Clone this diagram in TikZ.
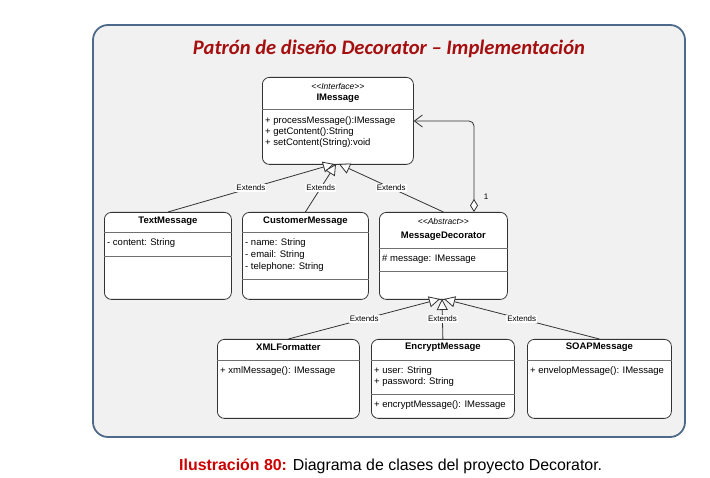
\documentclass[tikz,border=0pt]{standalone}
\usepackage{fontspec}
\setmainfont{Liberation Sans}
\newfontfamily\titlefont{Carlito}
\usetikzlibrary{arrows.meta}
\definecolor{framebg}{HTML}{F1F1F1}
\definecolor{frameline}{HTML}{4D6A8A}
\definecolor{titlered}{HTML}{A50F0F}
\definecolor{capred}{HTML}{CC0000}
\definecolor{ln}{HTML}{333333}
\begin{document}
\begin{tikzpicture}[x=1pt,y=-1pt,
  cls/.style={draw=ln, fill=white, rounded corners=7pt, line width=0.8pt, inner sep=0pt, anchor=north west},
  div/.style={draw=ln!70, line width=0.7pt},
  nm/.style={font=\fontsize{9.5}{11}\selectfont\bfseries, inner sep=0pt},
  st/.style={font=\fontsize{8.5}{10}\selectfont\itshape, inner sep=0pt},
  mb/.style={font=\fontsize{9.5}{11}\selectfont, inner sep=0pt, anchor=west},
  lbl/.style={font=\fontsize{8}{9}\selectfont, fill=white, inner sep=1pt},
  ext/.style={draw=ln, line width=0.8pt, -{Triangle[length=11pt,width=11pt,fill=white,line width=0.8pt]}},
  agg/.style={draw=ln, line width=0.8pt, rounded corners=5pt,
    {Diamond[length=13pt,width=8pt,fill=white,line width=0.8pt]}-{Straight Barb[length=8pt,width=12pt,line width=0.8pt]}}
]
\useasboundingbox (0,0) rectangle (710,478);
% frame
\draw[fill=framebg, draw=frameline, line width=1.8pt, rounded corners=15pt] (93,25) rectangle (685,437);
\node[font=\titlefont\fontsize{20.6}{24}\selectfont\bfseries\itshape, text=titlered, anchor=base, inner sep=0pt] (title) at (389,55) {Patrón de diseño Decorator – Implementación};

% IMessage
\node[cls, minimum width=151pt, minimum height=87pt] (im) at (262,77) {};
\node[st] (imst) at (im.north |- 0,86) {{<}{<}Interface{>}{>}};
\node[nm] (imnm) at (im.north |- 0,98) {IMessage};
\draw[div] (im.west |- 0,109) -- (im.east |- 0,109);
\node[mb] (im1) at (265,121) {+ processMessage():IMessage};
\node[mb] (im2) at (265,132) {+ getContent():String};
\node[mb] (im3) at (265,143) {+ setContent(String):void};

% TextMessage
\node[cls, minimum width=127pt, minimum height=87pt] (tm) at (104,212) {};
\node[nm] (tmnm) at (tm.north |- 0,221) {TextMessage};
\draw[div] (tm.west |- 0,232) -- (tm.east |- 0,232);
\node[mb] (tm1) at (107,243) {- content: String};
\draw[div] (tm.west |- 0,256) -- (tm.east |- 0,256);

% CustomerMessage
\node[cls, minimum width=126pt, minimum height=87pt] (cm) at (242,212) {};
\node[nm] (cmnm) at (cm.north |- 0,221) {CustomerMessage};
\draw[div] (cm.west |- 0,232) -- (cm.east |- 0,232);
\node[mb] (cm1) at (245,243) {- name: String};
\node[mb] (cm2) at (245,255) {- email: String};
\node[mb] (cm3) at (245,267) {- telephone: String};
\draw[div] (cm.west |- 0,279) -- (cm.east |- 0,279);

% MessageDecorator
\node[cls, minimum width=128pt, minimum height=87pt] (md) at (379,212) {};
\node[st] (mdst) at (md.north |- 0,221) {{<}{<}Abstract{>}{>}};
\node[nm] (mdnm) at (md.north |- 0,236) {MessageDecorator};
\draw[div] (md.west |- 0,248) -- (md.east |- 0,248);
\node[mb] (md1) at (382,259) {\# message: IMessage};
\draw[div] (md.west |- 0,271) -- (md.east |- 0,271);

% XMLFormatter
\node[cls, minimum width=142pt, minimum height=79pt] (xf) at (217,339) {};
\node[nm] (xfnm) at (xf.north |- 0,347) {XMLFormatter};
\draw[div] (xf.west |- 0,360) -- (xf.east |- 0,360);
\node[mb] (xf1) at (220,371) {+ xmlMessage(): IMessage};

% EncryptMessage
\node[cls, minimum width=143pt, minimum height=79pt] (em) at (371,339) {};
\node[nm] (emnm) at (em.north |- 0,347) {EncryptMessage};
\draw[div] (em.west |- 0,360) -- (em.east |- 0,360);
\node[mb] (em1) at (374,371) {+ user: String};
\node[mb] (em2) at (374,382) {+ password: String};
\draw[div] (em.west |- 0,394) -- (em.east |- 0,394);
\node[mb] (em3) at (374,405) {+ encryptMessage(): IMessage};

% SOAPMessage
\node[cls, minimum width=144pt, minimum height=79pt] (sm) at (527,339) {};
\node[nm] (smnm) at (sm.north |- 0,347) {SOAPMessage};
\draw[div] (sm.west |- 0,360) -- (sm.east |- 0,360);
\node[mb] (sm1) at (530,371) {+ envelopMessage(): IMessage};

% tips
\coordinate (t1) at (334,164);
\coordinate (t2) at (336,164);
\coordinate (t3) at (339,164);
\coordinate (b1) at (440,299);
\coordinate (b2) at (442,299);
\coordinate (b3) at (444,299);

\draw[ext] (tm.north) -- node[lbl]{Extends} (t1);
\draw[ext] (cm.north) -- node[lbl]{Extends} (t2);
\draw[ext] (md.north) -- node[lbl]{Extends} (t3);

\draw[ext] (xf.north) -- node[lbl]{Extends} (b1);
\draw[ext] (em.north) -- node[lbl]{Extends} (b2);
\draw[ext] (sm.north) -- node[lbl]{Extends} (b3);

% aggregation
\coordinate (ag) at (474,212);
\draw[agg] (ag) |- (im.east |- 0,121);
\node[font=\fontsize{8}{9}\selectfont, inner sep=0pt] (one) at (486,197) {1};

% caption
\node[anchor=base west, inner sep=0pt, font=\fontsize{15.9}{18}\selectfont] (cap) at (179,470) {\textcolor{capred}{\bfseries Ilustración 80:} Diagrama de clases del proyecto Decorator.};
\end{tikzpicture}
\end{document}
